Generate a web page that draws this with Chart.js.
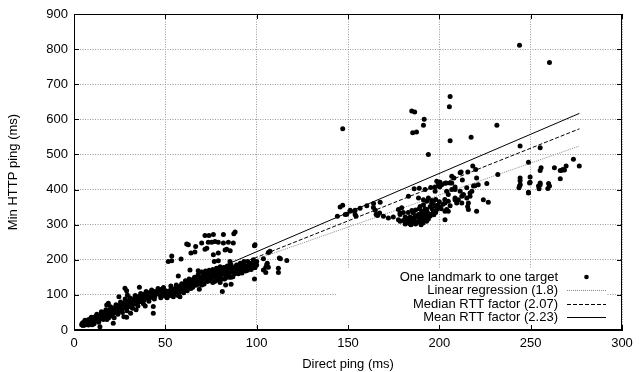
<!DOCTYPE html>
<html>
<head>
<meta charset="utf-8">
<script src="https://cdn.jsdelivr.net/npm/chart.js@4.4.1/dist/chart.umd.min.js"></script>
<style>
  html, body { margin: 0; padding: 0; background: #fff; }
  #wrap { width: 641px; height: 372px; }
</style>
</head>
<body>
<div id="wrap"><canvas id="rtt-chart"></canvas></div>
<script>
// axis ticks
var xTicks = [0, 50, 100, 150, 200, 250, 300];
var yTicks = [0, 100, 200, 300, 400, 500, 600, 700, 800, 900];

// one landmark to one target: [direct ping, min HTTP ping] (ms)
var landmarkPairs = [
  // 0-50 ms band
  [4.2,15],[4.5,19],[5,13],[5.2,21],[5.5,17],[5.8,23],[6,14],[6.5,19],[6.8,26],[7,17],[7.4,22],[7.8,29],[8,20],
  [8.5,25],[8.8,31],[9,19],[9.5,27],[10,33],[10.2,23],[10.6,29],[11,36],[11.2,26],[11.7,31],[12,39],[12.3,28],
  [12.8,34],[13.2,41],[13.4,30],[13.8,37],[14.2,9],[14.4,44],[14.5,33],[14.9,39],[15.3,47],[15.5,36],[15.9,41],
  [16.3,50],[16.5,38],[16.9,44],[17.2,52],[17.4,41],[17.8,46],[17.9,71],[18.3,54],[18.4,43],[18.8,76],[18.9,48],
  [19.3,57],[19.5,45],[19.9,51],[20.3,60],[20.6,47],[21,53],[21.4,62],[21.5,19],[21.7,49],[22.2,56],[22.5,64],
  [22.8,51],[23.2,59],[23.6,67],[23.9,53],[24.3,61],[24.6,95],[24.8,70],[25.1,57],[25.6,63],[26,73],[26.2,59],
  [26.7,66],[27.1,76],[27.3,38],[27.6,69],[27.9,119],[28.2,79],[28.4,62],[28.8,112],[28.8,36],[28.9,73],[29.2,100],
  [29.4,81],[29.6,66],[30,75],[30.4,84],[30.7,69],[31.1,78],[31.5,87],[31.8,72],[32.2,81],[32.6,89],[32.9,74],
  [33.3,83],[33.7,92],[34,77],[34.4,86],[34.8,94],[35.1,80],[35.5,89],[35.8,122],[36,97],[36.3,82],[36.7,91],
  [37.1,99],[37.5,85],[37.9,94],[38.3,102],[38.6,88],[39.2,96],[39.8,104],[40.2,91],[40.8,99],[41.5,107],[42,93],
  [42.5,101],[43.4,48],[43.4,67],[43.8,110],[44.2,97],[44.7,108],[45.3,103],[46,113],[46.6,106],[47.3,99],
  [48,116],[48.7,109],[49.4,103],[50.2,112],
  [6,28],[8,14],[9.5,36],[11,18],[12.5,45],[13.5,22],[15,52],[16,30],[17.5,58],[19,35],[20,66],[21,40],[23,72],
  [24,45],[25.5,80],[26.5,50],[28,88],[29,55],[30.5,92],[32,62],[33.5,98],[35,68],[36.5,104],[38,75],[39.5,110],
  [41,82],[42.5,114],[44,88],[46,118],[47.5,92],[49,121],[50,96],[31,48],[34,58],[39,68],[22,35],[18,30],[10,15],
  // 50-100 ms band
  [51,105],[52,110],[52.4,98],[53,115],[53.3,102],[54,112],[55,108],[55.4,118],[56,103],[56.5,115],[57,120],
  [57.5,110],[58,118],[58.4,125],[59,112],[59.5,122],[60,128],[60.4,118],[61,125],[61.5,132],[62,120],[62.5,130],
  [63,135],[63.4,126],[64,140],[64.5,130],[65,135],[65.4,145],[66,138],[66.5,128],[67,142],[67.5,150],[68,135],
  [68.4,145],[69,148],[69.5,140],[70,152],[70.4,142],[71,155],[71.5,145],[72,150],[72.4,158],[73,148],[73.5,155],
  [74,160],[74.4,150],[75,145],[75.3,155],[75.6,162],[76,150],[76.5,158],[77,165],[77.4,152],[78,148],[78.3,160],
  [78.6,168],[79,155],[79.5,162],[80,150],[80.3,165],[80.6,172],[81,158],[81.5,168],[82,162],[82.4,145],[83,170],
  [83.4,155],[84,165],[84.4,175],[85,160],[85.4,170],[86,150],[86.4,178],[87,165],[87.4,172],[88,160],[88.4,180],
  [89,168],[90,175],[90.5,165],[91,180],[92,170],[93,178],[94,168],[95,182],[96,175],[97,185],[98,190],[99,178],
  [100,185],
  [51,92],[53,125],[54,100],[56,128],[57,98],[58,108],[59,132],[60,106],[61,140],[62,112],[63,145],[64,118],
  [65,122],[66,150],[67,128],[68,158],[69,130],[70,165],[71,132],[72,168],[73,138],[74,170],[74.5,140],[76,172],
  [77,138],[78,176],[79,142],[80,180],[81,145],[82,178],[83,148],[84,182],[85,150],[86,185],[87,152],[88,172],
  [89,185],[90,160],[91,190],[92,162],[93,195],[95,170],[96,190],[97,172],[86,130],[80,135],[83,128],[76,135],
  [70,128],
  // above the band, 50-100 ms
  [71.7,269],[73.9,269],[76.3,272],[81.8,272],[88.2,279],[87.5,274],[69.9,248],[73.5,250],[75.4,250],[77.2,252],
  [79,250],[81.8,248],[84.5,250],[87.2,248],[61.7,245],[66.6,238],[71.7,230],[83.6,230],[64,219],[66.2,222],
  [76.3,214],[79,219],[82.7,228],[53.5,211],[51.6,195],[53.5,197],[58.6,202],[76.8,195],[79,197],[85.4,195],
  [98.8,240],[63.5,171],[68,169],[57.1,154],[68.6,116],[71.2,131],[81.2,110],[98.8,145],[58,95],[54.4,95],
  [85.5,226],[72.7,233],[62.6,243],
  // 90-120 ms
  [99.1,243],[106.4,221],[107.3,224],[112.4,205],[113,203],[116.5,198],[103.7,203],[100,195],[98.2,200],[97.3,190],
  [99.1,178],[105.5,186],[106.4,179],[105,179],[105.8,190],[103.7,171],[105,164],[111.9,176],[111.9,164],[93,185],
  [95,195],[92,178],[94,172],
  // 140-175 ms
  [144.2,324],[145.7,350],[147.1,355],[149.3,330],[151.1,338],[153.5,338],[154.4,324],[156.6,347],[151.2,341],
  [153.9,341],[160.3,354],[163.9,349],[164.9,341],[167.6,364],[165.4,329],[166.2,326],[169.4,324],[172.1,319],
  [153.9,329],[148.5,329],[164,360],[167.3,333],[174.8,322],
  // 175-212 ms cluster
  [183.1,381],[186.2,402],[189,404],[192.2,400],[195.3,406],[197.6,407],[200.3,408],[203.1,418],[205.8,419],
  [208.6,407],[211.4,448],[199.5,419],[206.8,438],[188.6,376],[191.3,371],[193.1,367],[195.8,369],
  [177.6,343],[179.4,348],[180.3,335],[178.5,329],[181.3,322],[177.6,314],[180.3,312],[184,316],[183.1,307],
  [185.8,309],[187.7,322],[189.5,329],[190.4,338],[192.2,345],[193.5,335],[195,325],[197.7,354],[196.8,338],
  [198.6,343],[200.4,350],[203.1,362],[204,343],[204.9,367],[205.9,354],[208.6,371],[210.4,371],[203.1,314],
  [204.9,338],[184,302],[186.8,306],[181.3,302],[189.5,306],[191.3,312],[194,316],
  [178.5,333],[182.2,314],[178.5,310],[184.9,310],[185.8,333],[186.8,324],[188.6,329],[189.5,352],[191.3,357],
  [189.5,319],[192.2,333],[193.1,343],[195,352],[195.9,362],[194,376],[196.8,367],[197.7,395],[199.5,410],
  [198.6,424],[201.3,414],[204,395],[204.9,386],[206.8,400],[208.6,376],[203.1,338],[209.5,362],
  [182,305],[183,310],[184.5,300],[185,304],[186,312],[187,302],[188,308],[189,315],[190,300],[190,320],[191,305],
  [192,318],[193,310],[194,322],[186,318],[188,325],[184,322],[182,318],[190,330],[192,328],[195,330],[197,328],
  [198,335],[189,345],[187,342],[185,340],[183,335],[196,345],[199,355],[201,345],[202,358],[200,365],[203,372],
  [198,372],[196,360],
  // 208-232 ms
  [211.4,395],[212.3,381],[213.2,386],[215,376],[215.9,362],[217.8,395],[215.9,343],[220.4,338],[224.1,371],
  [226.8,364],[215,405],[218.7,410],[212.3,362],[218.3,467],[219.9,457],[211.9,450],[215.6,450],[212.6,427],
  [220.4,433],[226,417],[232,443],[208.6,400],[216.8,390],[216.8,381],[219.5,411],[221.3,414],[215.5,352],
  [208,433],[203.7,419],[206.8,419],[200.4,421],
  // 240-277 ms
  [243.9,410],[244.3,414],[248.8,390],[249.4,419],[254.3,410],[255.2,414],[259.8,417],[260.3,410],[244.2,433],
  [244.2,425],[243.6,405],[249.7,436],[249.7,421],[255.2,419],[254.6,402],[259.4,403],[248.8,392],[248.8,478],
  [263,462],[266.2,454],[267.1,455],[268.5,456],[255.7,462],[255.2,454],[266.2,431],[273.4,486],[276.6,467],
  [269.4,467],[267.6,457],
  // well above the lines
  [243.9,811],[260.3,762],[147.1,573],[184.9,624],[186.5,621],[185.4,562],[187.5,564],[191.7,600],[191.3,583],
  [194,500],[205.9,665],[205.5,636],[205.9,539],[217.4,549],[231.5,583],[244.2,524],[255.2,519]
];

// fitted lines, end points
var fitLabels = ['Linear regression (1.8)', 'Median RTT factor (2.07)', 'Mean RTT factor (2.23)'];
var fitLines = [
  [[4, 27], [276.7, 524]],
  [[4, 8.3], [276.7, 573]],
  [[4, 8.9], [276.7, 617]]
];
var fitColors = ['#8a8a8a', '#000', '#000'];
var fitDash = [[1, 1], [4, 2], []];
var pointLabel = 'One landmark to one target';

var FONT = '"Liberation Sans", Arial, Helvetica, sans-serif';
Chart.defaults.font.family = FONT;
Chart.defaults.font.size = 13;
Chart.defaults.color = '#000';

// opaque key box in the lower right, gnuplot style
var keyPlugin = {
  id: 'gnuKey',
  afterDatasetsDraw: function(chart) {
    var ctx = chart.ctx;
    ctx.save();
    ctx.fillStyle = '#fff';
    ctx.fillRect(337, 268, 270, 60);
    ctx.font = '13px ' + FONT;
    ctx.fillStyle = '#000';
    ctx.textAlign = 'right';
    ctx.textBaseline = 'middle';
    var rows = [277, 290, 304, 317];
    var textX = 558, x1 = 567, x2 = 606;
    ctx.fillText(pointLabel, textX, rows[0]);
    ctx.beginPath();
    ctx.arc((x1 + x2) / 2, rows[0], 2.3, 0, Math.PI * 2);
    ctx.fill();
    for (var i = 0; i < fitLabels.length; i++) {
      var y = rows[i + 1];
      ctx.fillStyle = '#000';
      ctx.fillText(fitLabels[i], textX, y);
      ctx.beginPath();
      ctx.strokeStyle = fitColors[i];
      ctx.lineWidth = 1;
      ctx.setLineDash(fitDash[i]);
      ctx.moveTo(x1, Math.round(y) + 0.5);
      ctx.lineTo(x2, Math.round(y) + 0.5);
      ctx.stroke();
    }
    ctx.restore();
  },
  afterDraw: function(chart) {
    // frame and inward tick marks on all four sides
    var ctx = chart.ctx, a = chart.chartArea;
    var xs = chart.scales.x, ys = chart.scales.y;
    ctx.save();
    ctx.strokeStyle = '#000';
    ctx.lineWidth = 1;
    ctx.setLineDash([]);
    ctx.strokeRect(Math.round(a.left) + 0.5, Math.round(a.top) + 0.5,
      Math.round(a.right - a.left) - 1, Math.round(a.bottom - a.top) - 1);
    ctx.beginPath();
    xTicks.forEach(function(v) {
      var px = Math.round(xs.getPixelForValue(v)) + 0.5;
      ctx.moveTo(px, a.bottom); ctx.lineTo(px, a.bottom - 5);
      ctx.moveTo(px, a.top); ctx.lineTo(px, a.top + 5);
    });
    yTicks.forEach(function(v) {
      var py = Math.round(ys.getPixelForValue(v)) + 0.5;
      ctx.moveTo(a.left, py); ctx.lineTo(a.left + 5, py);
      ctx.moveTo(a.right, py); ctx.lineTo(a.right - 5, py);
    });
    ctx.stroke();
    ctx.restore();
  }
};

var datasets = [{
  label: pointLabel,
  data: landmarkPairs.map(function(p) { return {x: p[0], y: p[1]}; }),
  backgroundColor: '#000',
  borderColor: '#000',
  borderWidth: 0,
  pointRadius: 2.5,
  showLine: false
}];
fitLines.forEach(function(line, i) {
  datasets.push({
    label: fitLabels[i],
    data: line.map(function(p) { return {x: p[0], y: p[1]}; }),
    showLine: true,
    borderColor: fitColors[i],
    borderWidth: 1,
    borderDash: fitDash[i],
    pointRadius: 0,
    fill: false
  });
});

var ctx = document.getElementById('rtt-chart').getContext('2d');
new Chart(ctx, {
  type: 'scatter',
  data: { datasets: datasets },
  options: {
    responsive: true,
    maintainAspectRatio: false,
    animation: false,
    layout: { padding: { left: 0, right: 19, top: 14, bottom: 0 } },
    plugins: {
      legend: { display: false },
      tooltip: { enabled: false }
    },
    scales: {
      x: {
        type: 'linear',
        min: 0, max: 300,
        afterBuildTicks: function(s) { s.ticks = xTicks.map(function(v) { return {value: v}; }); },
        afterFit: function(s) { s.height = 42; },
        ticks: { padding: 6, maxRotation: 0 },
        grid: { color: '#999', drawTicks: false },
        border: { display: true, color: '#000', dash: [1, 1.5] },
        title: { display: true, text: 'Direct ping (ms)', padding: { top: 0, bottom: 0 } }
      },
      y: {
        type: 'linear',
        min: 0, max: 900,
        afterBuildTicks: function(s) { s.ticks = yTicks.map(function(v) { return {value: v}; }); },
        afterFit: function(s) { s.width = 74; },
        ticks: { padding: 6 },
        grid: { color: '#999', drawTicks: false },
        border: { display: true, color: '#000', dash: [1, 1.5] },
        title: { display: true, text: 'Min HTTP ping (ms)', padding: { top: 6, bottom: 0 } }
      }
    }
  },
  plugins: [keyPlugin]
});
</script>
</body>
</html>
